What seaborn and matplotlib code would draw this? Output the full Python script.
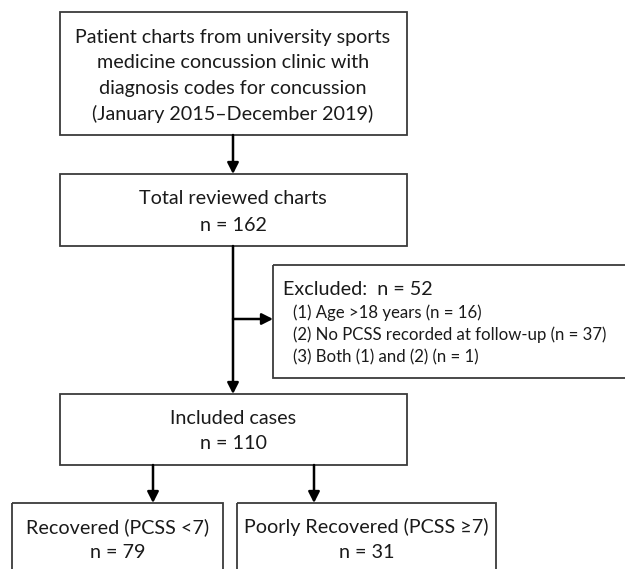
import matplotlib
matplotlib.use("Agg")
import matplotlib.pyplot as plt
import seaborn as sns
from matplotlib.patches import Rectangle

sns.set_theme(style="white")
plt.rcParams['font.family'] = ['Lato', 'DejaVu Sans']

# ---- data ----
source_lines = ["Patient charts from university sports",
                "medicine concussion clinic with",
                "diagnosis codes for concussion",
                "(January 2015\u2013December 2019)"]
stage_names = ["Total reviewed charts", "Included cases"]
stage_counts = [162, 110]
excluded_total = 52
excluded_reasons = ["(1) Age >18 years", "(2) No PCSS recorded at follow-up", "(3) Both (1) and (2)"]
excluded_counts = [16, 37, 1]
outcome_names = ["Recovered (PCSS <7)", "Poorly Recovered (PCSS \u22657)"]
outcome_counts = [79, 31]

W, H = 625, 569
fig = plt.figure(figsize=(W / 100, H / 100), dpi=100)
ax = fig.add_axes([0, 0, 1, 1])
ax.set_xlim(0, W)
ax.set_ylim(H, 0)
ax.axis("off")

EDGE = "#3a3a3a"
TXT = "#1a1a1a"
FS = 14.2
FS2 = 12.1

def box(x0, y0, x1, y1):
    ax.add_patch(Rectangle((x0, y0), x1 - x0, y1 - y0, fill=False,
                           edgecolor=EDGE, linewidth=1.3, clip_on=False))

def arrow(x0, y0, x1, y1):
    ax.annotate("", xy=(x1, y1), xytext=(x0, y0),
                arrowprops=dict(arrowstyle="-|>,head_length=0.55,head_width=0.28",
                                color="black", lw=1.8, shrinkA=0, shrinkB=0))

# source box
box(60, 12, 407, 135)
for i, t in enumerate(source_lines):
    ax.text(233, 37 + i * 25.5, t, ha="center", va="center", fontsize=FS, color=TXT)

# total reviewed
box(60, 174, 407, 246)
ax.text(233, 198, stage_names[0], ha="center", va="center", fontsize=FS, color=TXT)
ax.text(233, 225, f"n = {stage_counts[0]}", ha="center", va="center", fontsize=FS, color=TXT)

# excluded
box(273, 265, 640, 378)
ax.text(283, 289, f"Excluded:  n = {excluded_total}", ha="left", va="center", fontsize=FS, color=TXT)
for i, (r, c) in enumerate(zip(excluded_reasons, excluded_counts)):
    ax.text(293, 313 + i * 22, f"{r} (n = {c})", ha="left", va="center", fontsize=FS2, color=TXT)

# included
box(60, 394, 407, 465)
ax.text(233, 418, stage_names[1], ha="center", va="center", fontsize=FS, color=TXT)
ax.text(233, 443, f"n = {stage_counts[1]}", ha="center", va="center", fontsize=FS, color=TXT)

# outcomes
out_boxes = [(12, 223), (237, 496)]
for (x0, x1), name, cnt in zip(out_boxes, outcome_names, outcome_counts):
    box(x0, 503, x1, 600)
    cx = (x0 + x1) / 2
    ax.text(cx, 527, name, ha="center", va="center", fontsize=FS, color=TXT)
    ax.text(cx, 552, f"n = {cnt}", ha="center", va="center", fontsize=FS, color=TXT)

# arrows
arrow(233, 135, 233, 174)
arrow(233, 246, 233, 394)
arrow(233, 319, 273, 319)
arrow(153, 465, 153, 503)
arrow(314, 465, 314, 503)

fig.savefig("out.png", dpi=100, facecolor="white")
